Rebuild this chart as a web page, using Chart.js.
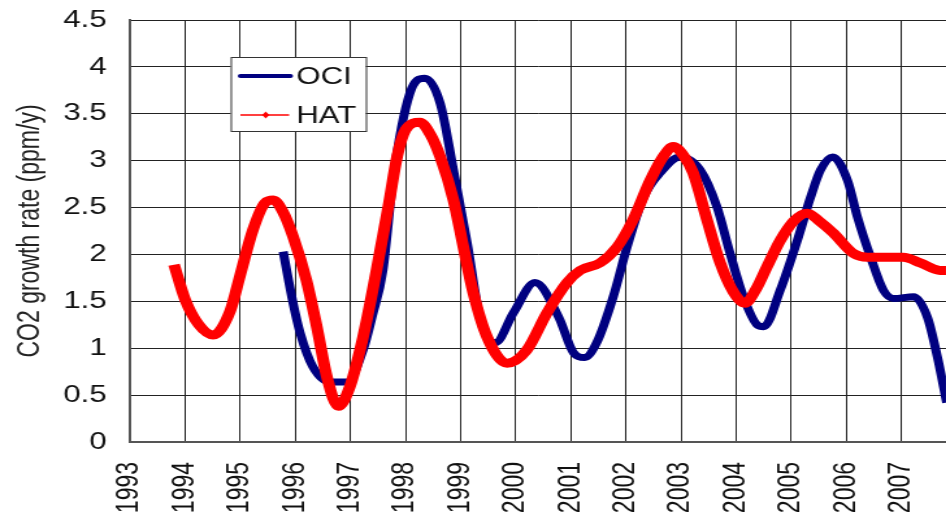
<!DOCTYPE html>
<html>
<head>
<meta charset="utf-8">
<script src="https://cdn.jsdelivr.net/npm/chart.js@4"></script>
<style>
  html, body { margin: 0; padding: 0; background: #fff; overflow: hidden; }
  #wrap { position: absolute; left: 0; top: 0; width: 733px; height: 518px;
          transform: scaleX(1.2995); transform-origin: 0 0; }
</style>
</head>
<body>
<div id="wrap"><canvas id="c"></canvas></div>
<script>
// ---- data ----
const yearTicks = [1993,1994,1995,1996,1997,1998,1999,2000,2001,2002,2003,2004,2005,2006,2007];
const yTickValues = [0,0.5,1,1.5,2,2.5,3,3.5,4,4.5];

const hatYears = [1993.80,1994.00,1994.25,1994.51,1994.82,1995.00,1995.23,1995.45,1995.60,1995.78,
  1995.96,1996.20,1996.39,1996.58,1996.78,1996.99,1997.23,1997.48,1997.70,1997.85,1998.00,1998.26,
  1998.45,1998.63,1998.87,1999.05,1999.23,1999.48,1999.84,2000.20,2000.57,2000.93,2001.17,2001.53,
  2001.84,2002.13,2002.44,2002.65,2002.86,2003.05,2003.22,2003.47,2003.71,2003.95,2004.16,2004.36,
  2004.56,2004.80,2005.05,2005.29,2005.50,2005.76,2006.13,2006.38,2007.03,2007.34,2007.70,2007.85];
const hatValues = [1.89,1.52,1.25,1.14,1.40,1.78,2.26,2.55,2.58,2.45,
  2.19,1.73,1.23,0.68,0.38,0.59,1.12,1.85,2.55,3.05,3.33,3.41,
  3.28,3.04,2.58,2.08,1.59,1.12,0.84,0.98,1.38,1.70,1.83,1.91,
  2.08,2.37,2.79,3.02,3.15,3.05,2.87,2.37,1.91,1.60,1.48,1.63,
  1.87,2.15,2.36,2.44,2.36,2.23,2.01,1.97,1.97,1.91,1.83,1.83];

const ociYears = [1995.78,1995.96,1996.09,1996.32,1996.63,1996.94,1997.23,1997.40,1997.59,1997.78,
  1998.08,1998.35,1998.63,1998.87,1999.12,1999.36,1999.63,1999.96,2000.35,2000.78,2001.05,2001.25,
  2001.47,2001.77,2002.02,2002.32,2002.62,2002.98,2003.35,2003.65,2003.89,2004.13,2004.38,2004.50,
  2004.80,2005.11,2005.35,2005.53,2005.75,2006.02,2006.20,2006.44,2006.67,2006.86,2007.22,2007.47,
  2007.65,2007.82];
const ociValues = [2.03,1.48,1.16,0.80,0.64,0.64,0.98,1.35,1.83,2.83,
  3.72,3.88,3.61,2.90,2.12,1.30,1.06,1.38,1.70,1.33,0.95,0.90,
  1.06,1.55,2.08,2.61,2.87,3.04,2.90,2.51,2.01,1.55,1.25,1.23,
  1.62,2.15,2.61,2.90,3.04,2.79,2.40,1.97,1.62,1.53,1.55,1.33,
  0.91,0.42];

const seriesNames = ['OCI','HAT'];
const seriesColors = ['#000080','#FF0000'];
const yTitle = 'CO2 growth rate (ppm/y)';

const toXY = (xs, ys) => xs.map((x, i) => ({x: x, y: ys[i]}));
const FONT = "'Liberation Sans', Arial, sans-serif";

const legendPlugin = {
  id: 'boxLegend',
  afterDraw(chart) {
    const ctx = chart.ctx;
    ctx.save();
    const bx = 177.5, by = 57, bw = 104, bh = 74;
    ctx.fillStyle = '#fff';
    ctx.fillRect(bx, by, bw, bh);
    ctx.strokeStyle = '#333';
    ctx.lineWidth = 1;
    ctx.strokeRect(bx + 0.5, by + 0.5, bw, bh);
    ctx.strokeStyle = seriesColors[0];
    ctx.lineWidth = 4;
    ctx.lineCap = 'round';
    ctx.beginPath(); ctx.moveTo(185, 76); ctx.lineTo(223.5, 76); ctx.stroke();
    ctx.strokeStyle = seriesColors[1];
    ctx.lineWidth = 1.5;
    ctx.lineCap = 'butt';
    ctx.beginPath(); ctx.moveTo(185, 115); ctx.lineTo(222.5, 115); ctx.stroke();
    ctx.fillStyle = seriesColors[1];
    ctx.beginPath();
    ctx.moveTo(204.5, 111.5); ctx.lineTo(207.2, 115); ctx.lineTo(204.5, 118.5); ctx.lineTo(201.8, 115);
    ctx.closePath(); ctx.fill();
    ctx.fillStyle = '#111';
    ctx.font = '24px ' + FONT;
    ctx.textBaseline = 'middle';
    ctx.textAlign = 'left';
    ctx.fillText(seriesNames[0], 228, 77);
    ctx.fillText(seriesNames[1], 228, 116);
    ctx.restore();
  }
};

new Chart(document.getElementById('c'), {
  type: 'line',
  data: {
    datasets: [
      { label: seriesNames[1], data: toXY(hatYears, hatValues), borderColor: seriesColors[1],
        backgroundColor: seriesColors[1], borderWidth: 9, pointRadius: 0,
        cubicInterpolationMode: 'monotone', order: 0 },
      { label: seriesNames[0], data: toXY(ociYears, ociValues), borderColor: seriesColors[0],
        backgroundColor: seriesColors[0], borderWidth: 7, pointRadius: 0,
        cubicInterpolationMode: 'monotone', order: 1 }
    ]
  },
  options: {
    responsive: true,
    maintainAspectRatio: false,
    animation: false,
    layout: { padding: { top: 20, right: 0, bottom: 0, left: 0 } },
    plugins: { legend: { display: false }, tooltip: { enabled: false } },
    scales: {
      x: {
        type: 'linear',
        min: yearTicks[0],
        max: 2007.82,
        afterFit(scale) { scale.height = 76; scale.paddingLeft = 0; scale.paddingRight = 0; },
        afterBuildTicks(scale) { scale.ticks = yearTicks.map(v => ({value: v})); },
        ticks: {
          stepSize: 1, autoSkip: false, includeBounds: false,
          minRotation: 90, maxRotation: 90, padding: 20,
          color: '#111', font: { family: FONT, size: 23 },
          callback: (v) => String(v)
        },
        grid: { color: '#222', lineWidth: 1, drawTicks: false },
        border: { display: true, color: '#555', width: 2 }
      },
      y: {
        min: 0, max: 4.5,
        afterFit(scale) { scale.width = 100; scale.paddingTop = 0; scale.paddingBottom = 0; },
        afterBuildTicks(scale) { scale.ticks = yTickValues.map(v => ({value: v})); },
        ticks: {
          stepSize: 0.5, padding: 18, color: '#111',
          font: { family: FONT, size: 24 },
          callback: (v) => String(v)
        },
        title: { display: true, text: yTitle, color: '#222',
                 font: { family: FONT, size: 23 }, padding: { top: 10, bottom: 0 } },
        grid: { color: '#222', lineWidth: 1, drawTicks: false },
        border: { display: true, color: '#555', width: 2 }
      }
    }
  },
  plugins: [legendPlugin]
});
</script>
</body>
</html>
